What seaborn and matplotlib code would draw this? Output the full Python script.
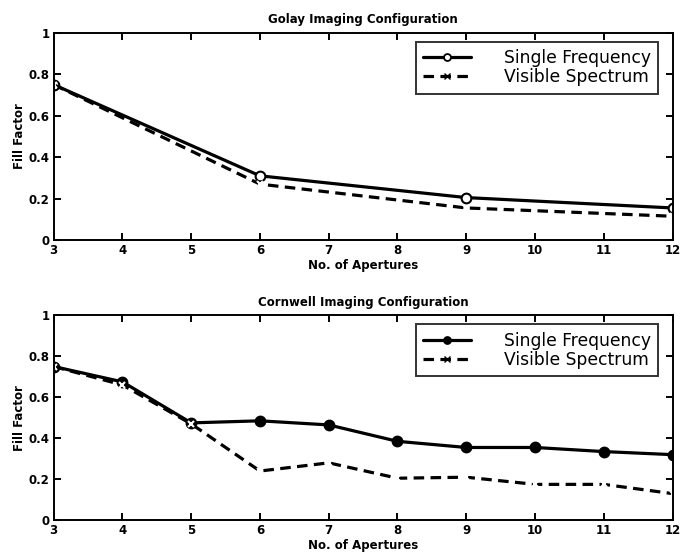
import numpy as np
import pandas as pd
import matplotlib
matplotlib.use("Agg")
import matplotlib.pyplot as plt
from matplotlib.lines import Line2D
import seaborn as sns

# Golay configuration
golay_apertures = [3, 6, 9, 12]
golay_single = [0.75, 0.31, 0.205, 0.155]
golay_visible = [0.75, 0.27, 0.155, 0.115]

# Cornwell configuration
cornwell_apertures = [3, 4, 5, 6, 7, 8, 9, 10, 11, 12]
cornwell_single = [0.75, 0.675, 0.475, 0.485, 0.465, 0.385, 0.355, 0.355, 0.335, 0.32]
cornwell_visible = [0.75, 0.66, 0.47, 0.24, 0.28, 0.205, 0.21, 0.175, 0.175, 0.13]

series_names = ["Single Frequency", "Visible Spectrum"]
x_ticks = list(range(3, 13))
y_ticks = [0, 0.2, 0.4, 0.6, 0.8, 1]
y_tick_labels = ["0", "0.2", "0.4", "0.6", "0.8", "1"]

sns.set_style("ticks")
plt.rcParams["font.family"] = ["DejaVu Sans"]
plt.rcParams["text.color"] = "black"
plt.rcParams["axes.labelcolor"] = "black"
plt.rcParams["xtick.color"] = "black"
plt.rcParams["ytick.color"] = "black"

fig = plt.figure(figsize=(6.8, 5.57), dpi=100)
ax_top = fig.add_axes([0.079, 0.569, 0.910, 0.372])
ax_bot = fig.add_axes([0.079, 0.066, 0.910, 0.368])

DASH = (0, (3.3, 2.0))
SMALL = dict(fontsize=8.5, fontweight="bold", color="black")


def draw(ax, x, single, visible, title, single_face):
    sns.lineplot(x=x, y=single, color="black", linewidth=2.3,
                 marker="o", markersize=7, markerfacecolor=single_face,
                 markeredgecolor="black", markeredgewidth=1.5, ax=ax)
    sns.lineplot(x=x, y=visible, color="black", linewidth=2.3,
                 linestyle=DASH, marker="x", markersize=5,
                 markeredgewidth=1.5, ax=ax)
    ax.set_xlim(3, 12)
    ax.set_ylim(0, 1)
    ax.set_xticks(x_ticks)
    ax.set_xticklabels([str(t) for t in x_ticks], **SMALL)
    ax.set_yticks(y_ticks)
    ax.set_yticklabels(y_tick_labels, **SMALL)
    ax.tick_params(direction="in", top=True, right=True, length=5, width=1.4, pad=3)
    for s in ax.spines.values():
        s.set_visible(True)
        s.set_linewidth(1.4)
        s.set_color("black")
    ax.set_title(title, pad=7, **SMALL)
    ax.set_xlabel("No. of Apertures", labelpad=1, **SMALL)
    ax.set_ylabel("Fill Factor", labelpad=2, **SMALL)
    handles = [
        Line2D([], [], color="black", lw=2.3, marker="o", markersize=5,
               markerfacecolor=single_face, markeredgewidth=1.3),
        Line2D([], [], color="black", lw=2.3, ls=DASH, marker="x",
               markersize=4),
    ]
    leg = ax.legend(handles, series_names, loc="upper right",
                    bbox_to_anchor=(0.977, 0.957), borderaxespad=0,
                    fontsize=12.3, frameon=True, fancybox=False,
                    handlelength=2.8, handletextpad=1.9,
                    labelspacing=0.05, borderpad=0.45)
    leg.get_frame().set_edgecolor("black")
    leg.get_frame().set_linewidth(1.4)
    for t in leg.get_texts():
        t.set_color("black")


draw(ax_top, golay_apertures, golay_single, golay_visible,
     "Golay Imaging Configuration", "white")
draw(ax_bot, cornwell_apertures, cornwell_single, cornwell_visible,
     "Cornwell Imaging Configuration", "black")

fig.savefig("out.png", dpi=100)
